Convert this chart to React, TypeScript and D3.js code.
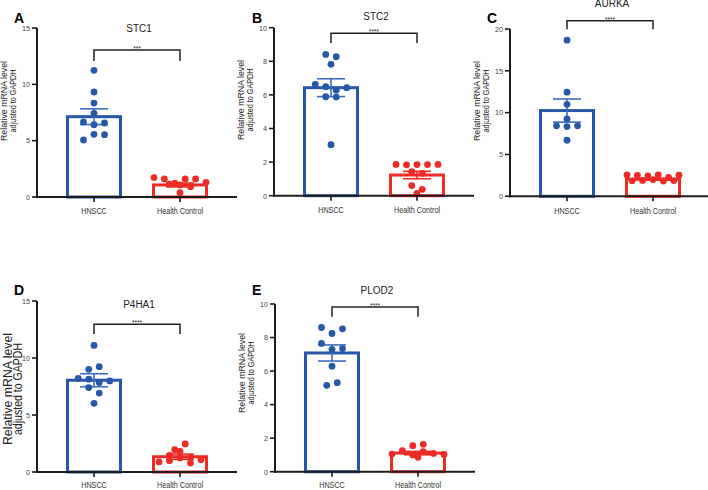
import React from 'react';
import * as d3 from 'd3';

// ---------- DATA ----------
const categories = ['HNSCC', 'Health Control'];
const genes = ['STC1', 'STC2', 'AURKA', 'P4HA1', 'PLOD2'];
const panelLetters = ['A', 'B', 'C', 'D', 'E'];
const significance = ['***', '****', '****', '****', '****'];
const yAxisLabel = ['Relative mRNA level', 'adjusted to GAPDH'];

const stc1Hnscc = [11.24, 9.32, 8.34, 7.43, 6.66, 6.42, 6.57, 5.06, 5.56, 5.53];
const stc1Control = [1.72, 1.6, 0.38, 1.24, 1.15, 1.6, 1.07, 1.6, 0.92, 1.3];
const stc2Hnscc = [8.41, 8.27, 7.82, 6.63, 6.49, 6.28, 6.43, 5.89, 5.87, 3.04];
const stc2Control = [1.86, 1.43, 1.84, 1.33, 1.85, 0.6, 1.85, 0.38, 1.86, 0.14];
const aurkaHnscc = [18.67, 12.45, 11.0, 9.25, 8.42, 8.34, 8.42, 6.7];
const aurkaControl = [2.55, 1.85, 2.5, 1.9, 2.45, 2.0, 2.55, 1.83, 2.25, 1.88, 2.52];
const p4ha1Hnscc = [11.1, 9.01, 9.24, 8.2, 8.14, 7.85, 7.99, 7.41, 6.92, 6.02];
const p4ha1Control = [1.46, 0.88, 1.81, 1.96, 1.29, 0.99, 2.46, 1.23, 0.79, 1.08];
const plod2Hnscc = [8.6, 8.24, 8.52, 7.65, 7.3, 7.34, 6.29, 5.15, 5.31];
const plod2Control = [1.05, 1.25, 1.0, 1.19, 1.55, 1.63, 0.86, 1.09, 1.03];

const hnsccValues = [stc1Hnscc, stc2Hnscc, aurkaHnscc, p4ha1Hnscc, plod2Hnscc];
const controlValues = [stc1Control, stc2Control, aurkaControl, p4ha1Control, plod2Control];
const hnsccMeans = [7.13, 6.43, 10.25, 8.05, 7.08];
const hnsccSems = [0.7, 0.53, 1.38, 0.57, 0.48];
const controlMeans = [1.07, 1.23, 2.03, 1.34, 1.11];
const controlSems = [0.17, 0.22, 0.1, 0.23, 0.1];
const yTicks = [
  [0, 5, 10, 15],
  [0, 2, 4, 6, 8, 10],
  [0, 5, 10, 15, 20],
  [0, 5, 10, 15],
  [0, 2, 4, 6, 8, 10],
];

// ---------- LAYOUT ----------
const SMALL_LAB = { ylabFont: 8.8, ylabLens: [80, 63], ylabOff: [30, 21] };
const layouts = [
  { ax: 37, y0: 197, yTop: 28, titleY: 31.5, letterX: 14, letterY: 23, bracketY: 50, legY: 61, labelY: 214, ylabY: 101, ...SMALL_LAB },
  { ax: 274, y0: 195.7, yTop: 27.7, titleY: 20, letterX: 252, letterY: 22.5, bracketY: 33.3, legY: 43, labelY: 213, ylabY: 100, ...SMALL_LAB },
  { ax: 510, y0: 196.3, yTop: 29, titleY: 7, letterX: 487, letterY: 22.5, bracketY: 20.7, legY: 29.3, labelY: 214, ylabY: 101, ...SMALL_LAB },
  { ax: 37, y0: 472, yTop: 301, titleY: 308, letterX: 14, letterY: 295, bracketY: 324.3, legY: 334, labelY: 488, ylabY: 389, ylabFont: 13, ylabLens: [112, 92], ylabOff: [25.5, 15], },
  { ax: 275, y0: 471.7, yTop: 304, titleY: 294, letterX: 252, letterY: 295, bracketY: 307, legY: 316.7, labelY: 488, ylabY: 373, ...SMALL_LAB },
];

const BLUE = '#2757a8';
const BLUE_ERR = '#3d6cc0';
const RED = '#ee2b25';
const FONT = "'Liberation Sans', Arial, Helvetica, sans-serif";
const AXIS = '#1c1c1c';

function swarm(values: number[], y: (v: number) => number, maxStep = 10.5, maxSpan = 52, thresh = 6.3) {
  const idx = values.map((_, i) => i).sort((a, b) => values[b] - values[a]);
  const rows: number[][] = [];
  let cur: number[] = [];
  let startY = 0;
  for (const i of idx) {
    const py = y(values[i]);
    if (cur.length && Math.abs(py - startY) < thresh) cur.push(i);
    else {
      if (cur.length) rows.push(cur);
      cur = [i];
      startY = py;
    }
  }
  if (cur.length) rows.push(cur);
  const off = new Array(values.length).fill(0);
  for (const r of rows) {
    r.sort((a, b) => a - b);
    const n = r.length;
    const st = n > 1 ? Math.min(maxStep, maxSpan / (n - 1)) : 0;
    r.forEach((i, k) => {
      off[i] = (k - (n - 1) / 2) * st;
    });
  }
  return off;
}

function Panel({ p }: { p: number }) {
  const L = layouts[p];
  const ticks = yTicks[p];
  const yMax = ticks[ticks.length - 1];
  const y = d3.scaleLinear().domain([0, yMax]).range([L.y0, L.yTop]);
  const x = d3.scalePoint<string>().domain(categories).range([L.ax, L.ax + 200]).padding(0.663);
  const groups = [
    { vals: hnsccValues[p], mean: hnsccMeans[p], sem: hnsccSems[p], color: BLUE, err: BLUE_ERR },
    { vals: controlValues[p], mean: controlMeans[p], sem: controlSems[p], color: RED, err: RED },
  ];
  const barW = 53;
  const capW = 28;
  const x1 = x(categories[0])!;
  const x2 = x(categories[1])!;
  return (
    <g>
      <text x={L.letterX} y={L.letterY} fontSize={14} fontWeight="bold" fill="#000" fontFamily={FONT}>
        {panelLetters[p]}
      </text>
      <text x={(x1 + x2) / 2 + 2} y={L.titleY} fontSize={10} textAnchor="middle" fill="#222" fontFamily={FONT}>
        {genes[p]}
      </text>
      {yAxisLabel.map((t, i) => (
        <text
          key={i}
          transform={`translate(${L.ax - L.ylabOff[i]},${L.ylabY}) rotate(-90)`}
          fontSize={L.ylabFont}
          textAnchor="middle"
          textLength={L.ylabLens[i]}
          lengthAdjust="spacingAndGlyphs"
          fill="#222"
          fontFamily={FONT}
        >
          {t}
        </text>
      ))}
      {groups.map((g, gi) => {
        const cx = x(categories[gi])!;
        const off = swarm(g.vals, y);
        return (
          <g key={gi}>
            <rect x={cx - barW / 2} y={y(g.mean)} width={barW} height={L.y0 - y(g.mean)} fill="#fff" stroke={g.color} strokeWidth={3} />
            <g stroke={g.err} strokeWidth={1.6}>
              <line x1={cx} x2={cx} y1={y(g.mean + g.sem)} y2={y(g.mean - g.sem)} />
              <line x1={cx - capW / 2} x2={cx + capW / 2} y1={y(g.mean + g.sem)} y2={y(g.mean + g.sem)} />
              <line x1={cx - capW / 2} x2={cx + capW / 2} y1={y(g.mean - g.sem)} y2={y(g.mean - g.sem)} />
            </g>
            {g.vals.map((v, i) => (
              <circle key={i} cx={cx + off[i]} cy={y(v)} r={3.4} fill={g.color} />
            ))}
          </g>
        );
      })}
      <line x1={L.ax} x2={L.ax} y1={L.y0 + 1} y2={L.yTop} stroke={AXIS} strokeWidth={2} />
      <line x1={L.ax - 1} x2={L.ax + 200} y1={L.y0} y2={L.y0} stroke={AXIS} strokeWidth={2} />
      {ticks.map((t) => (
        <g key={t}>
          <line x1={L.ax - 5} x2={L.ax} y1={y(t)} y2={y(t)} stroke={AXIS} strokeWidth={1.6} />
          <text
            transform={`translate(${L.ax - 7},${y(t) + 2.8}) scale(0.9,1)`}
            fontSize={8}
            textAnchor="end"
            fill="#444"
            fontFamily={FONT}
          >
            {t}
          </text>
        </g>
      ))}
      {categories.map((c) => (
        <g key={c}>
          <line x1={x(c)!} x2={x(c)!} y1={L.y0} y2={L.y0 + 5} stroke={AXIS} strokeWidth={1.6} />
          <text
            transform={`translate(${x(c)!},${L.labelY}) scale(0.85,1)`}
            fontSize={8.5}
            textAnchor="middle"
            fill="#333"
            fontFamily={FONT}
          >
            {c}
          </text>
        </g>
      ))}
      <path d={`M${x1},${L.legY}V${L.bracketY}H${x2}V${L.legY}`} fill="none" stroke="#222" strokeWidth={1.5} />
      <text x={(x1 + x2) / 2} y={L.bracketY + 1} fontSize={6.5} textAnchor="middle" fill="#222" fontFamily={FONT}>
        {significance[p]}
      </text>
    </g>
  );
}

export default function App() {
  return (
    <svg width={708} height={490} style={{ position: 'absolute', left: 0, top: 0, background: '#fff' }}>
      <rect width={708} height={490} fill="#fff" />
      {genes.map((_, p) => (
        <Panel key={p} p={p} />
      ))}
    </svg>
  );
}
